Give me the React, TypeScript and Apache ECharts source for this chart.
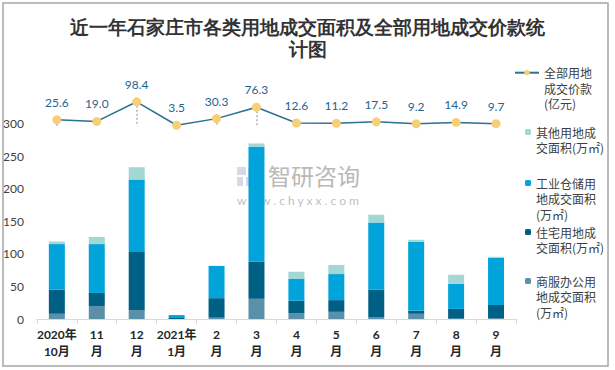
import React, { useEffect, useRef } from "react";
import * as echarts from "echarts";

const categories = ["2020年\n10月", "11\n月", "12\n月", "2021年\n1月", "2\n月", "3\n月", "4\n月", "5\n月", "6\n月", "7\n月", "8\n月", "9\n月"];
const commercial = [8, 20, 14, 0, 2, 31, 9, 11, 3, 8, 0.5, 1.5];
const residential = [37, 20, 89, 1.5, 30, 57, 19, 18, 42, 4.6, 15, 20];
const industrial = [70, 75, 111, 4.5, 49.5, 176, 34, 40, 103, 106, 38.4, 72.5];
const other = [4, 11, 19, 0, 0, 5.5, 10.5, 14, 12, 3, 14, 1.5];
const price = [25.6, 19.0, 98.4, 3.5, 30.3, 76.3, 12.6, 11.2, 17.5, 9.2, 14.9, 9.7];

const seriesNames = [
  "全部用地成交价款(亿元)",
  "其他用地成交面积(万㎡)",
  "工业仓储用地成交面积(万㎡)",
  "住宅用地成交面积(万㎡)",
  "商服办公用地成交面积(万㎡)",
];
const legendLabels = [
  "全部用地\n成交价款\n(亿元)",
  "其他用地成\n交面积(万㎡)",
  "工业仓储用\n地成交面积\n(万㎡)",
  "住宅用地成\n交面积(万㎡)",
  "商服办公用\n地成交面积\n(万㎡)",
];
const titleText = "近一年石家庄市各类用地成交面积及全部用地成交价款统\n计图";

const C_OTHER = "#a2d7d4";
const C_IND = "#00a4da";
const C_RES = "#005f84";
const C_COM = "#5b90a8";
const C_LINE = "#2b7190";
const C_MARK = "#f7cf78";

export default function App() {
  const ref = useRef<HTMLDivElement>(null);
  useEffect(() => {
    const chart = echarts.init(ref.current!, null, { renderer: "svg" });
    const LH = 15.5;
    const mkLegend = (idx: number, left: number, firstLineY: number, iw: number, ih: number) => {
      const lines = legendLabels[idx].split("\n").length;
      const boxH = (2 * lines - 1) * LH;
      // prepend blank lines so that the first real line sits at the icon's centre
      const label = "\u00a0\n".repeat(lines - 1) + legendLabels[idx];
      return {
        show: true,
        data: [seriesNames[idx]],
        orient: "vertical",
        left,
        top: firstLineY - boxH / 2,
        padding: 0,
        itemWidth: iw,
        itemHeight: ih,
        formatter: () => label,
        selectedMode: false,
        textStyle: {
          fontSize: 12,
          lineHeight: LH,
          color: "#404040",
          fontFamily: '"Noto Sans CJK SC", sans-serif',
        },
      };
    };
    const barCommon = {
      type: "bar",
      stack: "area",
      barWidth: 16,
      xAxisIndex: 0,
      yAxisIndex: 0,
      z: 2,
    };
    chart.setOption({
      animation: false,
      backgroundColor: "#ffffff",
      title: {
        text: titleText,
        left: "center",
        top: 17,
        padding: 0,
        textStyle: {
          fontSize: 18.5,
          lineHeight: 22,
          fontWeight: "bold",
          color: "#333333",
          fontFamily: "serif",
        },
      },
      legend: [
        mkLegend(0, 514, 72.7, 24, 7),
        mkLegend(1, 525, 132, 6, 6),
        mkLegend(2, 525, 183, 6, 6),
        mkLegend(3, 525, 232, 6, 6),
        mkLegend(4, 525, 281, 6, 6),
      ],
      grid: { left: 36, right: 99, top: 91, bottom: 51, containLabel: false },
      xAxis: {
        type: "category",
        data: categories,
        axisLine: { lineStyle: { color: "#d9d9d9", width: 1 } },
        axisTick: { show: true, length: 5, lineStyle: { color: "#d9d9d9" } },
        axisLabel: {
          interval: 0,
          margin: 7,
          fontSize: 12,
          lineHeight: 17,
          fontWeight: "bold",
          color: "#262626",
          fontFamily: 'Lato, "Noto Sans CJK SC", sans-serif',
        },
      },
      yAxis: [
        {
          type: "value",
          min: 0,
          max: 350,
          interval: 50,
          splitLine: { show: false },
          axisLine: { show: false },
          axisTick: { show: false },
          axisLabel: {
            showMaxLabel: false,
            margin: 13,
            fontSize: 12,
            color: "#404040",
            fontFamily: "Lato, sans-serif",
          },
        },
        {
          type: "value",
          min: -780,
          max: 142,
          show: false,
          splitLine: { show: false },
        },
      ],
      graphic: [
        {
          type: "group",
          z: 0,
          silent: true,
          children: [
            { type: "rect", shape: { x: 237, y: 167, width: 9, height: 8 }, style: { fill: "#c9d1e2", opacity: 0.8 } },
            { type: "rect", shape: { x: 248, y: 167, width: 13, height: 8 }, style: { fill: "#c9d1e2", opacity: 0.8 } },
            { type: "rect", shape: { x: 237, y: 177, width: 6, height: 9 }, style: { fill: "#c9d1e2", opacity: 0.8 } },
            { type: "rect", shape: { x: 246, y: 177, width: 15, height: 9 }, style: { fill: "#c9d1e2", opacity: 0.8 } },
            {
              type: "text",
              x: 268,
              y: 175,
              style: {
                text: "智研咨询",
                fontSize: 23,
                lineHeight: 23,
                fill: "#b9b9b9",
                fontFamily: '"Noto Sans CJK SC", sans-serif',
                verticalAlign: "middle",
              },
            },
            {
              type: "text",
              x: 237,
              y: 200,
              style: {
                text: "w w w . c h y x x . c o m",
                fontSize: 12,
                lineHeight: 12,
                fill: "#c0c0c0",
                fontFamily: "Lato, sans-serif",
                verticalAlign: "middle",
              },
            },
          ],
        },
        {
          type: "rect",
          z: 100,
          silent: true,
          shape: { x: 3, y: 3, width: 605, height: 363 },
          style: { fill: "none", stroke: "#a6a6a6", lineWidth: 1.5 },
        },
      ],
      series: [
        { ...barCommon, name: seriesNames[4], data: commercial, itemStyle: { color: C_COM } },
        { ...barCommon, name: seriesNames[3], data: residential, itemStyle: { color: C_RES } },
        { ...barCommon, name: seriesNames[2], data: industrial, itemStyle: { color: C_IND } },
        { ...barCommon, name: seriesNames[1], data: other, itemStyle: { color: C_OTHER } },
        {
          type: "line",
          name: seriesNames[0],
          yAxisIndex: 1,
          data: price,
          z: 10,
          symbol: "circle",
          symbolSize: 9,
          lineStyle: { color: C_LINE, width: 1.5 },
          itemStyle: { color: C_MARK },
          label: {
            show: true,
            position: "top",
            distance: 7,
            formatter: (p: any) => Number(p.value).toFixed(1),
            fontSize: 12,
            color: "#1f6490",
            fontFamily: "Lato, sans-serif",
          },
          markLine: {
            silent: true,
            z: 1,
            symbol: ["none", "none"],
            label: { show: false },
            lineStyle: { color: "#c4c4c4", type: [2, 2], width: 2 },
            data: price.map((v, i) => [{ coord: [i, v] }, { coord: [i, 0] }]),
          },
        },
      ],
    });
    return () => chart.dispose();
  }, []);
  return <div ref={ref} style={{ position: "fixed", left: 0, top: 0, width: 615, height: 370 }} />;
}
